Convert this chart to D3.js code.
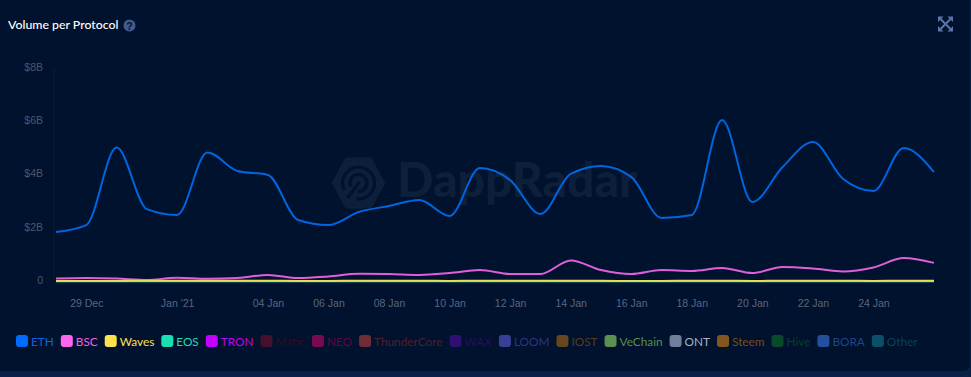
<!doctype html>
<html lang="en">
<head>
  <meta charset="utf-8">
  <title>Volume per Protocol</title>
  <style>
  html, body { margin: 0; padding: 0; background: #0b2047; overflow: hidden; }
  svg { display: block; }
  .axis path, .axis line { display: none; }
  .axis text { font-family: "Liberation Sans", sans-serif; font-size: 10.5px; }
  .legend text { font-family: Lato, sans-serif; font-size: 11.8px; }
  </style>
</head>
<body>
  <div id="chart"></div>
  <script src="https://d3js.org/d3.v7.min.js"></script>

<script>

//------------------data, $ billions per day
var days = ["2020-12-28","2020-12-29","2020-12-30","2020-12-31","2021-01-01","2021-01-02","2021-01-03","2021-01-04","2021-01-05","2021-01-06",
            "2021-01-07","2021-01-08","2021-01-09","2021-01-10","2021-01-11","2021-01-12","2021-01-13","2021-01-14","2021-01-15","2021-01-16",
            "2021-01-17","2021-01-18","2021-01-19","2021-01-20","2021-01-21","2021-01-22","2021-01-23","2021-01-24","2021-01-25","2021-01-26"];
var eth = [1.84,2.10,5.01,2.70,2.48,4.83,4.13,3.98,2.29,2.10,2.59,2.82,3.04,2.44,4.24,3.79,2.52,4.02,4.32,3.91,2.37,2.48,6.05,2.97,4.28,5.22,3.83,3.38,5.00,4.09];
var bsc = [0.09,0.11,0.09,0.04,0.12,0.08,0.11,0.23,0.11,0.17,0.27,0.26,0.23,0.30,0.41,0.26,0.26,0.77,0.41,0.26,0.41,0.38,0.49,0.30,0.53,0.47,0.36,0.51,0.86,0.68];
var waves = [0.00,0.00,0.00,0.01,0.01,0.01,0.01,0.01,0.00,0.00,0.01,0.01,0.01,0.00,0.01,0.01,0.01,0.01,0.01,0.00,0.00,0.01,0.01,0.00,0.01,0.01,0.01,0.00,0.01,0.01];
var eos = [-0.01,-0.01,-0.01,-0.01,-0.01,-0.01,-0.01,-0.01,-0.01,-0.01,-0.01,-0.01,-0.01,-0.01,-0.01,-0.01,-0.01,-0.01,-0.01,-0.01,-0.01,-0.01,-0.01,-0.01,-0.01,-0.01,-0.01,-0.01,-0.01,-0.01];
var yTicks = [0, 2, 4, 6, 8];
var yLabels = ["0", "$2B", "$4B", "$6B", "$8B"];
var xTicks = ["2020-12-29","2021-01-01","2021-01-04","2021-01-06","2021-01-08","2021-01-10","2021-01-12","2021-01-14","2021-01-16","2021-01-18","2021-01-20","2021-01-22","2021-01-24"];
var xLabels = ["29 Dec","Jan '21","04 Jan","06 Jan","08 Jan","10 Jan","12 Jan","14 Jan","16 Jan","18 Jan","20 Jan","22 Jan","24 Jan"];
var names = ["ETH","BSC","Waves","EOS","TRON","Matic","NEO","ThunderCore","WAX","LOOM","IOST","VeChain","ONT","Steem","Hive","BORA","Other"];
var swatches = ["#006cff","#ff66ee","#ffe14d","#1adfb0","#c400ff","#45102c","#7a0a50","#702c36","#2f0f70","#3a3f96","#66451f","#5a8f50","#6f7f99","#85551f","#0a4a2c","#22509c","#0a5068"];
var legendText = ["#0a62e0","#f060e0","#ffe14d","#1adfb0","#c000f8","#330c24","#5a0a45","#4f2030","#2a0c60","#2f3480","#5a3c1c","#5a8f50","#a8b2c6","#7a4e1c","#0a4028","#1f4585","#0a4258"];

//------------------set up svg
var width = 971;
var height = 377;
var parse = d3.utcParse("%Y-%m-%d");

var svg = d3.select("#chart").append("svg")
    .attr("width", width)
    .attr("height", height);

// card
svg.append("rect")
    .attr("x", -10).attr("y", -10)
    .attr("width", 980).attr("height", 381)
    .attr("rx", 6)
    .attr("fill", "#00122d");

//------------------watermark
var mark = svg.append("g").attr("transform", "translate(358.5,183)");
mark.append("path")
    .attr("d", d3.line().curve(d3.curveLinearClosed)([[-25,0],[-12,-24],[12,-24],[25,0],[12,24],[-12,24]]))
    .attr("fill", "#0e1f3a")
    .attr("stroke", "#0e1f3a")
    .attr("stroke-width", 3)
    .attr("stroke-linejoin", "round");
[16, 8.5].forEach(function(r) {
  mark.append("path")
      .attr("d", d3.arc().innerRadius(r - 1.6).outerRadius(r + 1.6).startAngle(0.5).endAngle(Math.PI * 2 - 0.5)())
      .attr("transform", "rotate(215)")
      .attr("fill", "#00122d");
});
mark.append("line")
    .attr("x1", -11).attr("y1", 15).attr("x2", 1).attr("y2", -1)
    .attr("stroke", "#00122d").attr("stroke-width", 3);
svg.append("text")
    .attr("x", 397).attr("y", 197)
    .attr("font-family", "Lato, sans-serif")
    .attr("font-weight", "900")
    .attr("font-size", "48px")
    .attr("fill", "#0e1f3a")
    .text("DappRadar");

//------------------title and icons
svg.append("text")
    .attr("x", 8).attr("y", 29)
    .attr("font-family", "Lato, sans-serif")
    .attr("font-size", "12.3px")
    .attr("font-weight", "500")
    .attr("fill", "#ffffff")
    .text("Volume per Protocol");

svg.append("circle").attr("cx", 129.5).attr("cy", 25.5).attr("r", 6).attr("fill", "#46598c");
svg.append("text")
    .attr("x", 129.5).attr("y", 29.5)
    .attr("text-anchor", "middle")
    .attr("font-family", "'Liberation Sans', sans-serif")
    .attr("font-weight", "bold")
    .attr("font-size", "10.5px")
    .attr("fill", "#00122d")
    .text("?");

var expand = svg.append("g").attr("transform", "translate(945.5,24)");
expand.append("path")
    .attr("d", "M-5,-5L5,5M5,-5L-5,5")
    .attr("stroke", "#5c74a8").attr("stroke-width", 2);
expand.append("path")
    .attr("d", "M-7.5,-7.5H-2L-7.5,-2ZM7.5,-7.5H2L7.5,-2ZM-7.5,7.5H-2L-7.5,2ZM7.5,7.5H2L7.5,2Z")
    .attr("fill", "#5c74a8");

//------------------scales and axes
var x = d3.scaleUtc()
    .domain([parse(days[0]), parse(days[days.length - 1])])
    .range([56, 934]);
var y = d3.scaleLinear().domain([0, 8]).range([281, 68]);

var xAxis = d3.axisBottom(x)
    .tickValues(xTicks.map(parse))
    .tickSize(0)
    .tickPadding(0)
    .tickFormat(function(d, i) { return xLabels[i]; });
svg.append("g").attr("class", "axis")
    .attr("transform", "translate(0,300)")
    .call(xAxis)
    .selectAll("text").attr("fill", "#5a6680");

var yAxis = d3.axisLeft(y)
    .tickValues(yTicks)
    .tickSize(0)
    .tickPadding(0)
    .tickFormat(function(d, i) { return yLabels[i]; });
svg.append("g").attr("class", "axis")
    .attr("transform", "translate(43,-1)")
    .call(yAxis)
    .selectAll("text").attr("fill", "#4d566b");

svg.append("line")
    .attr("x1", 54).attr("x2", 54)
    .attr("y1", y(8)).attr("y2", y(0))
    .attr("stroke", "#0b1d3b");

//------------------lines
var line = d3.line()
    .x(function(d, i) { return x(parse(days[i])); })
    .y(function(d) { return y(d); })
    .curve(d3.curveMonotoneX);

[[eos, swatches[3]], [eth, "#0065e0"], [bsc, "#e05fd8"], [waves, "#e6dc5a"]].forEach(function(s) {
  svg.append("path")
      .attr("d", line(s[0]))
      .attr("fill", "none")
      .attr("stroke", s[1])
      .attr("stroke-width", 2);
});

//------------------legend
var legend = svg.append("g").attr("class", "legend");
var legendX = 16;
names.forEach(function(name, i) {
  legend.append("rect")
      .attr("x", legendX).attr("y", 335)
      .attr("width", 12).attr("height", 12)
      .attr("rx", 3)
      .attr("fill", swatches[i]);
  var t = legend.append("text")
      .attr("x", legendX + 15).attr("y", 346)
      .attr("fill", legendText[i])
      .text(name);
  legendX += 15 + t.node().getComputedTextLength() + 7;
});

</script>
</body>
</html>
